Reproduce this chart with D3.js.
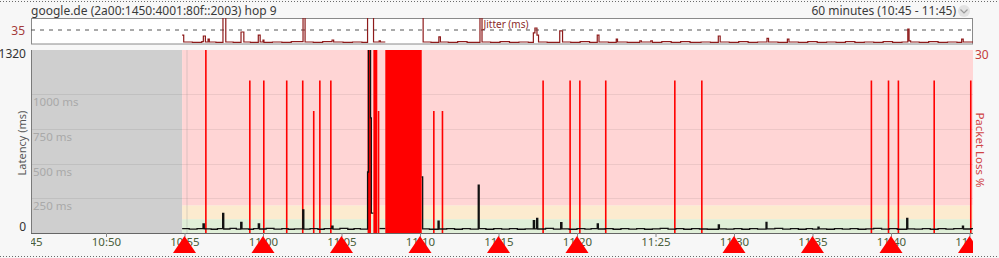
<!DOCTYPE html>
<html>
<head>
<meta charset="utf-8">
<script src="https://cdn.jsdelivr.net/npm/d3@7/dist/d3.min.js"></script>
<style>
  body { margin: 0; background: #f7f7f7; }
  svg { display: block; font-family: "Noto Sans", sans-serif; }
</style>
</head>
<body>
<svg id="chart" width="999" height="258"></svg>
<script>
// all times are minutes after 10:45
var tickMinutes = [0, 5, 10, 15, 20, 25, 30, 35, 40, 45, 50, 55, 60];
var tickLabels = ["10:45", "10:50", "10:55", "11:00", "11:05", "11:10", "11:15",
                  "11:20", "11:25", "11:30", "11:35", "11:40", "11:45"];
var alertMinutes = [10, 15, 20, 25, 30, 35, 45, 50, 55, 60];
var dataStart = 9.85;
var cursorMinute = 10.16;
var gridMs = [250, 500, 750, 1000];
var bandLimits = [0, 100, 200, 1320];
var jitterRef = 35;

// [minute, latency ms] - null = timed out
var latency = [
  [9.85,31],[10.3,28],[10.8,32],[11.18,65],[11.26,30],[11.7,27],[12.1,31],[12.43,142],[12.5,29],
  [12.9,33],[13.3,28],[13.58,77],[13.66,30],[14.1,27],[14.4,32],[14.7,65],[14.78,29],[15.2,34],
  [15.7,28],[16.2,31],[16.6,27],[17.0,30],[17.53,166],[17.6,28],[18.0,32],[18.5,27],[18.9,31],
  [19.38,50],[19.46,28],[19.9,33],[20.4,27],[20.8,31],[21.2,28],[21.66,440],[21.72,1500],
  [21.85,830],[21.9,144],[22.03,null],[22.42,32],[22.79,null],[25.11,404],[25.17,30],[25.6,27],
  [26.15,85],[26.22,29],[26.7,32],[27.2,27],[27.7,31],[28.2,28],[28.71,346],[28.77,31],[29.2,27],
  [29.7,32],[30.2,28],[30.7,31],[31.2,27],[31.7,30],[32.22,89],[32.3,30],[32.43,106],[32.5,29],
  [33.0,33],[33.5,28],[33.96,74],[34.04,30],[34.5,27],[35.0,32],[35.5,28],[35.9,31],[36.29,65],
  [36.36,29],[36.8,32],[37.3,27],[37.8,31],[38.3,28],[38.8,32],[39.3,27],[39.8,30],[40.3,33],
  [40.8,28],[41.3,31],[41.8,27],[42.3,32],[42.8,29],[43.3,27],[44.0,58],[44.07,30],[44.5,28],
  [45.0,32],[45.5,27],[46.0,31],[46.5,28],[47.04,77],[47.1,30],[47.6,33],[48.1,28],[48.6,31],
  [49.1,27],[49.6,32],[50.0,28],[50.35,42],[50.42,30],[50.9,27],[51.4,32],[51.9,28],[52.4,31],
  [52.9,27],[53.4,30],[53.9,33],[54.4,28],[54.9,31],[55.4,27],[56.0,106],[56.07,30],[56.5,28],
  [57.0,32],[57.5,27],[58.0,31],[58.5,28],[59.0,32],[59.55,50],[59.62,29],[60.1,31],[60.4,null]
];

// [minute, jitter ms]
var jitter = [
  [9.85,22],[9.95,5],[10.5,4],[11.1,6],[11.2,20],[11.33,5],[11.5,12],[11.58,5],[12.0,4],
  [12.45,75],[12.63,5],[13.1,4],[13.6,30],[13.78,5],[14.2,4],[14.7,22],[14.82,5],[15.0,10],
  [15.06,4],[15.6,5],[16.2,4],[16.8,6],[17.55,75],[17.68,5],[18.2,4],[18.8,6],[19.4,10],
  [19.5,5],[20.1,4],[20.7,5],[21.3,4],[21.66,75],[22.04,5],[22.4,8],[22.48,5],[22.79,null],
  [25.11,75],[25.2,5],[25.7,4],[26.2,18],[26.3,5],[26.8,4],[27.4,6],[28.0,4],[28.82,75],
  [28.95,5],[29.5,4],[30.1,6],[30.7,4],[31.3,5],[31.9,4],[32.22,28],[32.32,40],[32.45,22],
  [32.55,5],[33.1,4],[33.9,33],[34.08,5],[34.6,4],[35.2,6],[35.8,4],[36.29,22],[36.4,5],
  [37.0,4],[37.5,12],[37.58,5],[38.2,4],[39.0,8],[39.1,5],[39.7,8],[39.8,4],[40.4,6],[41.0,4],
  [41.6,6],[42.2,4],[42.9,5],[43.5,4],[44.0,20],[44.12,5],[44.7,4],[45.3,6],[45.9,4],[46.5,5],
  [47.1,14],[47.2,5],[47.8,4],[48.4,12],[48.5,5],[49.1,4],[49.7,6],[50.3,4],[50.9,5],[51.5,4],
  [52.1,6],[52.7,4],[53.3,5],[53.9,4],[54.5,6],[55.1,4],[55.7,5],[56.07,37],[56.15,8],[56.25,5],
  [56.8,4],[57.4,6],[58.0,4],[58.6,5],[59.2,4],[59.5,12],[59.6,5],[60.4,null]
];

// [start minute, end minute, loss %]
var lossSpans = [
  [11.31,11.41,100],[14.11,14.21,25],[15.0,15.1,25],[16.46,16.56,25],[17.48,17.58,25],
  [18.18,18.28,20],[18.57,18.67,25],[19.27,19.37,25],[21.66,21.88,100],[22.03,22.28,100],
  [22.31,22.41,20],[22.79,25.11,100],[25.83,25.93,20],[26.38,26.48,20],[32.79,32.89,25],
  [34.51,34.61,25],[35.13,35.23,25],[36.78,36.88,25],[41.18,41.28,25],[42.9,43.0,25],
  [53.7,53.8,25],[54.79,54.89,25],[55.42,55.52,25],[57.7,57.8,25],[60.03,60.13,25]
];

var svg = d3.select("#chart");
var plotL = 31, plotR = 973, plotT = 50, plotB = 233;

var x = d3.scaleLinear().domain([0, 60]).range([27.5, 969.5]);
var y = d3.scaleLinear().domain([0, 1320]).range([plotB, plotT]);
var yLoss = d3.scaleLinear().domain([0, 30]).range([plotB, plotT]);
var yJit = d3.scaleLinear().domain([0, 65]).range([44, 18]);

var defs = svg.append("defs");
function clip(id, x0, y0, w, h) {
   defs.append("clipPath").attr("id", id).append("rect")
       .attr("x", x0).attr("y", y0).attr("width", w).attr("height", h);
}
clip("plotClip", plotL, plotT, plotR - plotL, plotB - plotT);
clip("jitClip", plotL, 18, plotR - plotL, 26);
clip("axisClip", plotL, plotB, plotR - plotL, 258 - plotB);

// split a series into runs, closing each run at the time of the gap
function runs(data) {
   var out = [], cur = [];
   data.forEach(function (d) {
      if (d[1] == null) {
         if (cur.length) { cur.push([d[0], cur[cur.length - 1][1]]); out.push(cur); }
         cur = [];
      } else cur.push(d);
   });
   if (cur.length) out.push(cur);
   return out;
}

// dotted separators
[1.5, 256.5].forEach(function (yy) {
   svg.append("line").attr("x1", 0).attr("x2", 999).attr("y1", yy).attr("y2", yy)
      .attr("stroke", "#6a6a6a").attr("stroke-dasharray", "1,2");
});

// header
svg.append("text").attr("x", 31).attr("y", 14.5)
   .attr("font-size", 12).attr("fill", "#3a3a3a")
   .text("google.de (2a00:1450:4001:80f::2003) hop 9");
svg.append("text").attr("x", 956).attr("y", 14.5).attr("text-anchor", "end")
   .attr("font-size", 12).attr("fill", "#3a3a3a")
   .text("60 minutes (10:45 - 11:45)");
svg.append("circle").attr("cx", 964).attr("cy", 11).attr("r", 6).attr("fill", "#e2e2e2");
svg.append("path").attr("d", "M960.5,9.5L964,13L967.5,9.5")
   .attr("fill", "none").attr("stroke", "#9a9a9a").attr("stroke-width", 1.2);

// jitter panel
svg.append("rect").attr("x", plotL + 0.5).attr("y", 18.5)
   .attr("width", plotR - plotL - 1).attr("height", 25.5)
   .attr("fill", "#fff").attr("stroke", "#8a8a8a");
svg.append("line").attr("x1", plotL).attr("x2", plotR)
   .attr("y1", yJit(jitterRef)).attr("y2", yJit(jitterRef))
   .attr("stroke", "#555").attr("stroke-dasharray", "4,5");
svg.append("text").attr("x", 25).attr("y", yJit(jitterRef) + 4.5).attr("text-anchor", "end")
   .attr("font-size", 12).attr("fill", "#a33a3a").text(jitterRef);
svg.append("text").attr("x", 506).attr("y", 27.5).attr("text-anchor", "middle")
   .attr("font-size", 10).attr("fill", "#8b2a2a").text("Jitter (ms)");

var jitLine = d3.line().x(function (d) { return x(d[0]); })
   .y(function (d) { return yJit(d[1]); }).curve(d3.curveStepAfter);
svg.append("g").attr("clip-path", "url(#jitClip)").selectAll("path")
   .data(runs(jitter)).join("path")
   .attr("d", jitLine).attr("fill", "none")
   .attr("stroke", "#8e1b1b").attr("stroke-width", 1.2);

// main plot
var plot = svg.append("g").attr("clip-path", "url(#plotClip)");
plot.append("rect").attr("x", plotL).attr("y", plotT)
   .attr("width", x(dataStart) - plotL).attr("height", plotB - plotT).attr("fill", "#cfcfcf");

var bandColors = ["#e0efd8", "#fcebcf", "#ffd5d5"];
plot.selectAll(".band").data(d3.range(bandLimits.length - 1)).join("rect")
   .attr("x", x(dataStart)).attr("width", plotR - x(dataStart))
   .attr("y", function (i) { return y(bandLimits[i + 1]); })
   .attr("height", function (i) { return y(bandLimits[i]) - y(bandLimits[i + 1]); })
   .attr("fill", function (i) { return bandColors[i]; });

plot.selectAll(".grid").data(gridMs).join("line")
   .attr("x1", plotL).attr("x2", plotR)
   .attr("y1", function (d) { return Math.round(y(d)) + 0.5; })
   .attr("y2", function (d) { return Math.round(y(d)) + 0.5; })
   .attr("stroke", "rgba(0,0,0,0.07)");
plot.selectAll(".gridLabel").data(gridMs).join("text")
   .attr("x", 33).attr("y", function (d) { return y(d) + 12; })
   .attr("font-size", 11.5).attr("fill", "#a9a9a9")
   .text(function (d) { return d + " ms"; });

plot.append("line").attr("x1", x(cursorMinute)).attr("x2", x(cursorMinute))
   .attr("y1", plotT).attr("y2", plotB).attr("stroke", "rgba(150,150,150,0.35)");

plot.selectAll(".loss").data(lossSpans).join("rect")
   .attr("x", function (d) { return x(d[0]); })
   .attr("width", function (d) { return Math.max(1.6, x(d[1]) - x(d[0])); })
   .attr("y", function (d) { return yLoss(Math.min(d[2], 30)); })
   .attr("height", function (d) { return plotB - yLoss(Math.min(d[2], 30)); })
   .attr("fill", "#ff0000");

var latLine = d3.line().x(function (d) { return x(d[0]); })
   .y(function (d) { return y(Math.min(d[1], 1400)); }).curve(d3.curveStepAfter);
plot.selectAll(".lat").data(runs(latency)).join("path")
   .attr("d", latLine).attr("fill", "none")
   .attr("stroke", "#111").attr("stroke-width", 1.3);

// axis frame
svg.append("line").attr("x1", plotL + 0.5).attr("x2", plotL + 0.5).attr("y1", plotT).attr("y2", plotB)
   .attr("stroke", "#7a7a7a");
svg.append("line").attr("x1", plotL).attr("x2", plotR).attr("y1", plotB + 0.5).attr("y2", plotB + 0.5)
   .attr("stroke", "#666");

// latency axis labels
svg.append("text").attr("x", 26).attr("y", 57.5).attr("text-anchor", "end")
   .attr("font-size", 12).attr("fill", "#333").text(y.domain()[1]);
svg.append("text").attr("x", 26).attr("y", 230.5).attr("text-anchor", "end")
   .attr("font-size", 12).attr("fill", "#333").text(y.domain()[0]);
svg.append("text").attr("transform", "translate(26,143) rotate(-90)")
   .attr("text-anchor", "middle").attr("font-size", 11).attr("fill", "#555")
   .text("Latency (ms)");

// packet loss axis
svg.append("text").attr("x", 975).attr("y", 58.5)
   .attr("font-size", 12).attr("fill", "#c43c3c").text(yLoss.domain()[1]);
svg.append("text").attr("transform", "translate(976,150) rotate(90)")
   .attr("text-anchor", "middle").attr("font-size", 11.5).attr("fill", "#d04444")
   .text("Packet Loss %");

// time axis
var xAxis = svg.append("g").attr("clip-path", "url(#axisClip)")
   .append("g").attr("transform", "translate(0," + plotB + ")")
   .call(d3.axisBottom(x).tickValues(tickMinutes).tickSize(4).tickPadding(1)
      .tickFormat(function (d, i) { return tickLabels[i]; }));
xAxis.select(".domain").remove();
xAxis.selectAll(".tick line").attr("stroke", "#888");
xAxis.selectAll(".tick text").attr("fill", "#4a5e3a")
   .attr("font-size", 11.5).attr("font-family", "Noto Sans, sans-serif");

// alert markers
svg.append("g").attr("clip-path", "url(#axisClip)").selectAll("path")
   .data(alertMinutes).join("path")
   .attr("d", function (m) {
      var cx = x(m);
      return "M" + cx + ",236L" + (cx + 11.5) + ",253L" + (cx - 11.5) + ",253Z";
   })
   .attr("fill", "#ff0000");
</script>
</body>
</html>
